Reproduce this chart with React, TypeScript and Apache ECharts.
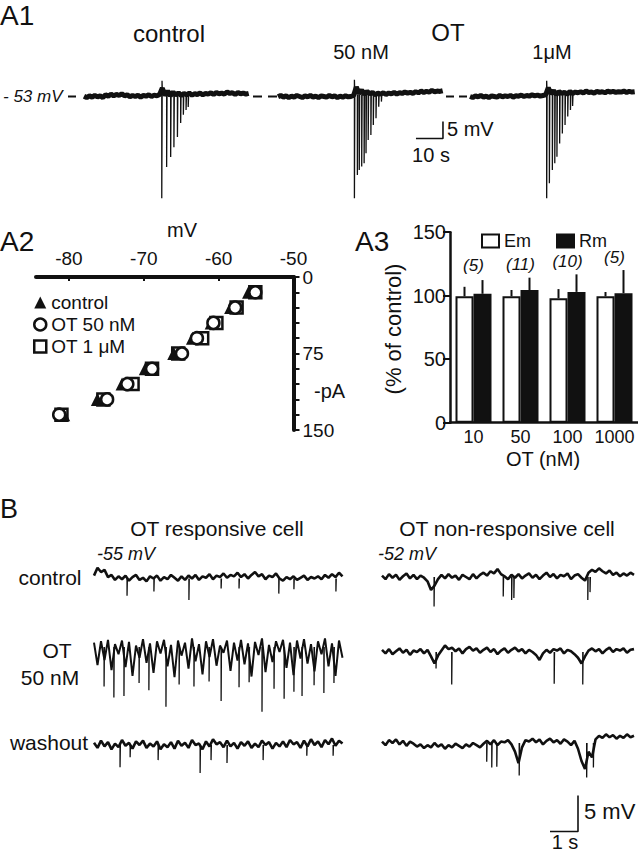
import React, { useEffect, useRef } from 'react';
import * as echarts from 'echarts';

const FONT = 'Liberation Sans, Arial, Helvetica, sans-serif';
const INK = '#111';

// ---------- A1: current-clamp traces (mV relative to -53 mV), 1 s per sample ----------
const a1Dt = 1;
const a1Control = [
  0.1, -0.3, 0.2, -0.2, 0.3, -0.1, 0.2, -0.3, 0.5, 0.1, 0.7, 0.2, 0.6, 0.3, 0.8, 0.2, 0.5, -0.1, 0.3, 0.0,
  0.4, -0.2, 0.3, 0.1, 0.5, 0.0, 0.4, 0.2, 0.6, 2.5, 0.3, 1.6, 0.2, 1.3, 0.4, 1.1, 0.3, 0.9, 0.5, 1.0,
  0.4, 0.8, 0.6, 1.0, 0.5, 0.9, 0.7, 1.1, 0.6, 1.2, 0.8, 1.0, 0.7, 1.3, 0.9, 1.1, 0.6, 1.2, 0.8, 1.0, 0.7, 0.9,
];
const a1Ot50 = [
  -0.1, 0.3, -0.2, 0.2, -0.3, 0.1, -0.2, 0.3, 0.0, -0.3, 0.2, -0.1, 0.3, -0.2, 0.1, -0.3, 0.2, 0.0, -0.2, 0.3,
  -0.1, 0.2, -0.3, 0.1, -0.2, 0.2, -0.1, 0.0, 0.3, 2.8, 0.9, 1.9, 0.6, 1.5, 0.8, 1.2, 0.5, 1.0, 0.7, 1.1,
  0.6, 1.0, 0.8, 1.2, 0.7, 1.1, 0.9, 1.3, 1.0, 1.2, 0.9, 1.4, 1.1, 1.6, 1.2, 1.5, 1.3, 1.8, 1.4, 1.6, 1.5, 1.7,
];
const a1Ot1000 = [
  0.0, -0.3, 0.2, -0.1, 0.3, -0.2, 0.1, -0.3, 0.2, 0.0, -0.2, 0.3, -0.1, 0.2, 0.0, 0.3, -0.2, 0.2, 0.1, 0.4,
  0.0, 0.3, 0.1, 0.5, 0.2, 0.4, 0.1, 0.3, 0.5, 2.6, 0.8, 1.7, 0.6, 1.4, 0.9, 1.2, 0.7, 1.5, 0.9, 1.3,
  1.1, 1.4, 1.0, 1.6, 1.2, 1.3, 1.0, 1.5, 1.2, 1.4, 1.1, 1.6, 1.3, 1.5, 1.2, 1.4, 1.3, 1.6, 1.2, 1.5, 1.3, 1.4,
];
// [time s, peak mV]
const a1ControlSpikes = [[28.9, 4.6], [28.8, -29.9], [30.6, -20.7], [32.1, -17.8], [33.3, -14.9], [34.6, -11.9], [35.8, -7.8], [36.8, -5.4], [37.8, -4.0], [38.6, -3.1]];
const a1Ot50Spikes = [[28.3, 4.9], [28.3, -29.9], [29.4, -23.1], [30.1, -21.6], [31.0, -20.6], [31.9, -19.6], [32.6, -16.7], [33.4, -12.8], [34.4, -11.3], [35.3, -8.4], [36.3, -6.4], [37.3, -3.0], [38.3, -1.5]];
const a1Ot1000Spikes = [[28.4, 4.6], [28.4, -29.9], [29.4, -25.5], [30.5, -21.6], [31.4, -19.6], [32.2, -17.7], [33.2, -13.8], [34.2, -10.9], [35.2, -8.4], [36.2, -5.9], [37.2, -4.0], [38.0, -2.8]];
const a1ScaleBar = [[51.1, -12.35], [61.1, -12.35], [61.1, -7.35]]; // 10 s, 5 mV

// ---------- A2: I–V relation ----------
const ivCurrents = [15, 30, 45, 60, 75, 90, 105, 120, 135]; // -pA
const ivControl = [-56.0, -58.4, -61.0, -63.5, -66.0, -69.8, -72.9, -76.2, -80.7];
const ivOt50 = [-55.1, -57.8, -60.7, -62.9, -64.9, -68.9, -72.2, -74.9, -81.3];
const ivOt1000 = [-55.1, -57.6, -60.3, -62.2, -65.4, -68.9, -71.5, -75.4, -81.0];
const ivXTicks = [-80, -70, -60, -50];
const ivYTicks = [0, 15, 30, 45, 60, 75, 90, 105, 120, 135, 150];
const ivYLabels = [0, 75, 150];

// ---------- A3: Em / Rm ----------
const otConc = ['10', '50', '100', '1000'];
const emMean = [99.5, 99.5, 98, 99.5];
const emSem = [7.5, 5.0, 7.2, 3.4];
const rmMean = [101.5, 104.5, 103, 102];
const rmSem = [10.8, 9.7, 13.8, 18.2];
const nCells = ['(5)', '(11)', '(10)', '(5)'];

// ---------- B: spontaneous activity (mV relative to resting), 0.125 s per sample ----------
const bDt = 0.125;
const bCtrlL = [
  0.4, 1.5, 0.9, 1.2, 0.2, 0.5, -0.2, 0.3, -0.1, 0.4,
  -0.3, 0.2, 0.5, -0.2, 0.1, -0.4, 0.3, 0.0, 0.4, -0.3,
  0.2, -0.1, 0.5, 0.1, -0.3, 0.3, -0.2, 0.4, 0.0, 0.5,
  -0.2, 0.3, 0.1, 0.6, -0.1, 0.4, 0.2, 0.7, 0.1, 0.5,
  0.3, 0.8, 0.2, 0.6, 0.0, 0.5, 0.9, 0.3, 0.6, -0.1,
  0.4, 0.2, 0.7, 0.0, -0.3, 0.2, -0.1, 0.3, -0.2, 0.1,
  0.4, -0.2, 0.2, 0.0, 0.3, -0.1, 0.5, 0.1, 0.6, 0.2,
  0.8, 0.3,
];
const bOtL = [
  0.6, -2.5, 0.8, -1.8, 1.0, -3.2, 0.4, -1.0, 0.9, -2.8,
  0.7, -4.0, 0.2, -1.5, 1.1, -2.2, 0.5, -3.6, 0.8, -0.9,
  1.0, -2.7, 0.3, -4.2, 0.9, -1.2, 0.6, -3.0, 1.2, -2.0,
  0.4, -3.8, 0.8, -1.4, 1.1, -2.6, 0.2, -0.8, 0.9, -3.3,
  0.6, -1.9, 1.0, -2.4, 0.5, -4.1, 0.7, -1.1, 1.2, -3.5,
  0.3, -2.1, 0.8, -0.7, 1.0, -2.9, 0.6, -3.9, 0.9, -1.6,
  1.1, -2.3, 0.4, -3.4, 0.8, -1.0, 1.2, -2.7, 0.5, -4.0,
  0.9, -1.5,
];
const bWashL = [
  0.3, -0.4, 0.6, -0.2, 0.4, -0.6, 0.2, -0.3, 0.7, -0.1,
  0.3, -0.5, 0.5, 0.0, 0.6, -0.4, 0.2, -0.2, 0.5, -0.6,
  0.1, -0.3, 0.4, -0.5, 0.6, -0.1, 0.3, -0.4, 0.7, 0.0,
  0.2, -0.6, 0.5, -0.2, 0.8, 0.1, 0.4, -0.3, 0.6, -0.2,
  0.3, -0.5, 0.4, -0.1, 0.5, -0.4, 0.2, -0.3, 0.6, 0.0,
  0.4, -0.5, 0.3, -0.2, 0.5, -0.3, 0.7, 0.1, 0.4, -0.4,
  0.6, -0.2, 0.8, 0.0, 0.5, -0.3, 0.7, 0.1, 0.9, -0.1,
  0.6, 0.2,
];
const bCtrlR = [
  0.2, -0.3, 0.4, -0.1, 0.3, -0.4, 0.1, 0.5, -0.2, 0.3,
  -0.3, 0.2, -0.1, -0.6, -1.8, -1.2, -0.3, 0.3, -0.2, 0.4,
  -0.1, 0.2, -0.4, 0.3, 0.0, -0.3, 0.4, -0.2, 0.3, 0.6,
  0.2, 0.8, 0.5, 1.1, 0.4, 0.1, -0.3, 0.3, -0.1, 0.4,
  -0.2, 0.2, 0.5, -0.1, 0.3, -0.3, 0.2, 0.6, 0.0, 0.4,
  -0.2, 0.3, 0.1, 0.5, -0.3, 0.2, 0.4, -0.1, -0.5, 0.6,
  1.0, 0.7, 1.2, 0.8, 0.5, 0.9, 0.3, 0.6, 0.1, 0.5,
  0.2, 0.6, 0.3,
];
const bOtR = [
  0.3, -0.2, 0.4, -0.3, 0.1, 0.5, -0.1, 0.3, -0.4, 0.2,
  0.0, 0.4, -0.2, 0.3, -0.6, -1.6, -0.5, 0.2, 0.9, 0.4,
  0.6, 0.1, 0.5, -0.2, 0.4, 0.7, 0.2, 0.5, -0.1, 0.3,
  0.6, 0.0, 0.4, -0.3, 0.2, 0.5, -0.1, 0.3, 0.6, 0.1,
  0.4, -0.2, 0.3, 0.0, -0.4, -1.1, -0.2, 0.3, -0.1, 0.4,
  0.2, 0.5, -0.2, 0.3, 0.1, -0.3, -0.8, -1.6, -0.6, 0.2,
  0.5, 0.1, 0.4, -0.2, 0.3, 0.6, 0.0, 0.4, 0.2, 0.5,
  -0.1, 0.3, 0.4,
];
const bWashR = [
  0.2, -0.3, 0.4, 0.0, 0.5, -0.2, 0.3, -0.4, 0.2, -0.1,
  -0.5, -0.2, -0.7, -0.3, -0.6, 0.0, -0.5, -0.2, -0.8, -0.3,
  -0.6, -0.1, -0.4, -0.7, -0.2, -0.5, 0.0, -0.3, -0.6, -0.1,
  0.3, -0.2, 0.4, -0.3, 0.2, 0.1, 0.4, -0.2, -1.2, -2.8,
  -0.6, 0.4, 0.2, 0.6, 0.1, 0.5, -0.2, 0.3, 0.6, 0.1,
  0.4, -0.1, 0.5, 0.2, -0.3, 0.3, -0.8, -2.5, -3.6, -1.2,
  -2.0, 0.5, 1.0, 0.7, 1.2, 0.8, 1.1, 0.6, 1.0, 0.7,
  1.2, 0.8, 1.0,
];
const bCtrlLSpikes = [[1.18, -2.4], [2.14, -1.8], [3.39, -3.0], [4.54, -1.4], [5.18, -1.4], [6.6, -2.1], [7.14, -1.5], [8.64, -1.8]];
const bOtLSpikes = [[0.36, -5.5], [0.71, -7.0], [1.07, -6.8], [1.61, -5.0], [1.96, -6.0], [2.57, -8.3], [3.04, -5.2], [3.57, -5.5], [4.11, -4.8], [4.54, -7.5], [5.18, -5.6], [5.54, -4.9], [6.0, -9.0], [6.43, -5.8], [6.79, -7.2], [7.14, -6.2], [7.43, -6.8], [7.86, -5.3], [8.21, -6.4], [8.57, -5.0]];
const bWashLSpikes = [[0.93, -3.1], [1.29, -1.7], [2.29, -2.1], [3.79, -3.9], [4.18, -2.1], [4.75, -2.5], [6.04, -2.1], [7.6, -1.5], [8.54, -1.5]];
const bCtrlRSpikes = [[1.86, -4.1], [4.33, -2.7], [4.63, -3.2], [4.71, -2.9], [7.35, -3.2], [7.43, -2.1]];
const bOtRSpikes = [[1.93, -2.3], [2.49, -4.5], [6.15, -4.4], [7.17, -4.5]];
const bWashRSpikes = [[3.74, -2.6], [3.92, -3.4], [4.10, -3.3], [4.90, -4.5], [7.31, -4.8], [7.55, -3.4]];
const bScaleBar = [[6.0, -12.3], [7.0, -12.3], [7.0, -7.3]]; // 1 s, 5 mV

// ---------- helpers ----------
const toXY = (vals: number[], dt: number) => vals.map((v, i) => [i * dt, v]);
const spikeXY = (list: number[][], base: number, eps: number) => {
  const out: any[] = [];
  list.forEach(([t, d]) => { out.push([t, base], [t, d], [t + eps, base], [t + eps, '-']); });
  return out;
};

type TG = { left: number; base: number; xMax: number; yMin: number; yMax: number; pxS: number; pxMv: number; w: number };
const traceGrids: TG[] = [
  { left: 84, base: 96.5, xMax: 62, yMin: -32, yMax: 6, pxS: 2.7, pxMv: 3.4, w: 5 },
  { left: 278, base: 96.5, xMax: 62, yMin: -32, yMax: 6, pxS: 2.7, pxMv: 3.4, w: 5 },
  { left: 470, base: 96.5, xMax: 62, yMin: -32, yMax: 6, pxS: 2.7, pxMv: 3.4, w: 5 },
  { left: 94, base: 578.5, xMax: 9.1, yMin: -10, yMax: 3, pxS: 28, pxMv: 7.2, w: 2.6 },
  { left: 94, base: 647, xMax: 9.1, yMin: -10, yMax: 3, pxS: 28, pxMv: 7.2, w: 2.0 },
  { left: 94, base: 745, xMax: 9.1, yMin: -10, yMax: 3, pxS: 28, pxMv: 7.2, w: 2.6 },
  { left: 382, base: 577, xMax: 9.1, yMin: -10, yMax: 3, pxS: 28, pxMv: 7.2, w: 2.6 },
  { left: 382, base: 652, xMax: 9.1, yMin: -10, yMax: 3, pxS: 28, pxMv: 7.2, w: 2.6 },
  { left: 382, base: 743, xMax: 9.1, yMin: -13, yMax: 3, pxS: 28, pxMv: 7.2, w: 2.6 },
];

function txt(text: string, x: number, y: number, size: number, align = 'left', extra: any = {}) {
  return {
    type: 'text', x, y, silent: true, rotation: extra.rotation || 0,
    style: {
      text, fontSize: size, fontFamily: FONT, fill: INK,
      textAlign: align, align, textVerticalAlign: 'middle', verticalAlign: 'middle',
      fontStyle: extra.italic ? 'italic' : 'normal',
    },
  };
}
function dash(x1: number, x2: number, y: number) {
  return { type: 'line', silent: true, shape: { x1, y1: y, x2, y2: y }, style: { stroke: INK, lineWidth: 2 } };
}

export default function App() {
  const ref = useRef<HTMLDivElement>(null);
  useEffect(() => {
    if (!ref.current) return;
    const chart = echarts.init(ref.current, undefined, { renderer: 'svg' });

    const grids: any[] = [];
    const xAxes: any[] = [];
    const yAxes: any[] = [];
    traceGrids.forEach((g, i) => {
      grids.push({ left: g.left, top: g.base - g.yMax * g.pxMv, width: g.xMax * g.pxS, height: (g.yMax - g.yMin) * g.pxMv });
      xAxes.push({ gridIndex: i, type: 'value', min: 0, max: g.xMax, show: false });
      yAxes.push({ gridIndex: i, type: 'value', min: g.yMin, max: g.yMax, show: false });
    });
    // A2 grid: index 9
    grids.push({ left: 36, top: 277, width: 257.5, height: 153 });
    xAxes.push({
      gridIndex: 9, type: 'value', position: 'top', min: -84.4, max: -50,
      axisLine: { show: true, onZero: false, lineStyle: { color: INK, width: 4 } },
      axisTick: { show: true, inside: true, length: 4, customValues: ivXTicks, lineStyle: { color: INK, width: 2 } },
      axisLabel: { customValues: ivXTicks, fontSize: 19, color: INK, fontFamily: FONT, margin: 9 },
      splitLine: { show: false },
    });
    yAxes.push({
      gridIndex: 9, type: 'value', position: 'right', inverse: true, min: 0, max: 150,
      axisLine: { show: true, onZero: false, lineStyle: { color: INK, width: 4 } },
      axisTick: { show: true, length: 6, customValues: ivYTicks, lineStyle: { color: INK, width: 2 } },
      axisLabel: { customValues: ivYLabels, fontSize: 19, color: INK, fontFamily: FONT, margin: 9 },
      splitLine: { show: false },
    });
    // A3 grid: index 10
    grids.push({ left: 450, top: 232.2, width: 189, height: 190.5 });
    xAxes.push({
      gridIndex: 10, type: 'category', data: otConc,
      axisLine: { show: true, lineStyle: { color: INK, width: 2.5 } },
      axisTick: { show: false },
      axisLabel: { interval: 0, hideOverlap: false, fontSize: 18, color: INK, fontFamily: FONT, margin: 5 },
    });
    yAxes.push({
      gridIndex: 10, type: 'value', min: 0, max: 150, interval: 50,
      axisLine: { show: true, lineStyle: { color: INK, width: 2.5 } },
      axisTick: { show: true, length: 7, lineStyle: { color: INK, width: 2 } },
      axisLabel: { fontSize: 20, color: INK, fontFamily: FONT, margin: 4 },
      splitLine: { show: false },
    });

    const traceLine = (idx: number, data: any[], width: number) => ({
      type: 'line', xAxisIndex: idx, yAxisIndex: idx, data, symbol: 'none', silent: true, connectNulls: false,
      lineStyle: { color: INK, width }, z: 3,
    });

    const traces: [number[], number[][], number, number][] = [
      [a1Control, a1ControlSpikes, a1Dt, 0.6],
      [a1Ot50, a1Ot50Spikes, a1Dt, 0.6],
      [a1Ot1000, a1Ot1000Spikes, a1Dt, 0.6],
      [bCtrlL, bCtrlLSpikes, bDt, 0],
      [bOtL, bOtLSpikes, bDt, 0],
      [bWashL, bWashLSpikes, bDt, 0],
      [bCtrlR, bCtrlRSpikes, bDt, 0],
      [bOtR, bOtRSpikes, bDt, 0],
      [bWashR, bWashRSpikes, bDt, 0],
    ];
    const series: any[] = [];
    traces.forEach(([vals, sp, dt, base], i) => {
      const isA1 = i < 3;
      series.push(traceLine(i, toXY(vals, dt), traceGrids[i].w));
      series.push(traceLine(i, spikeXY(sp, base, isA1 ? 0.15 : 0.012), 1.3));
    });
    series.push(traceLine(1, a1ScaleBar, 1.6));
    series.push(traceLine(8, bScaleBar, 1.6));

    // A2 scatter
    series.push({
      type: 'scatter', name: 'OT 1 μM', xAxisIndex: 9, yAxisIndex: 9, symbol: 'rect', symbolSize: 12,
      data: ivOt1000.map((v, i) => [v, ivCurrents[i]]),
      itemStyle: { color: '#fff', borderColor: INK, borderWidth: 2.5, opacity: 1 }, z: 4,
    });
    series.push({
      type: 'scatter', name: 'control', xAxisIndex: 9, yAxisIndex: 9, symbol: 'triangle', symbolSize: 13,
      data: ivControl.map((v, i) => [v, ivCurrents[i]]),
      itemStyle: { color: INK, opacity: 1 }, z: 5,
    });
    series.push({
      type: 'scatter', name: 'OT 50 nM', xAxisIndex: 9, yAxisIndex: 9, symbol: 'circle', symbolSize: 12,
      data: ivOt50.map((v, i) => [v, ivCurrents[i]]),
      itemStyle: { color: '#fff', borderColor: INK, borderWidth: 2.5, opacity: 1 }, z: 6,
    });

    // A3 bars
    series.push({
      type: 'bar', name: 'Em', xAxisIndex: 10, yAxisIndex: 10, data: emMean, barWidth: 18, barGap: '0%',
      itemStyle: { color: '#fff', borderColor: INK, borderWidth: 2 },
    });
    series.push({
      type: 'bar', name: 'Rm', xAxisIndex: 10, yAxisIndex: 10, data: rmMean, barWidth: 18, barGap: '0%',
      itemStyle: { color: INK, borderColor: INK, borderWidth: 2 },
    });
    const errSeries = (means: number[], sems: number[], off: number) => ({
      type: 'custom', xAxisIndex: 10, yAxisIndex: 10, silent: true, z: 5,
      data: means.map((m, i) => [i, m, m + sems[i]]),
      renderItem: (_p: any, api: any) => {
        const a = api.coord([api.value(0), api.value(1)]);
        const b = api.coord([api.value(0), api.value(2)]);
        return { type: 'line', shape: { x1: a[0] + off, y1: a[1], x2: a[0] + off, y2: b[1] }, style: { stroke: INK, lineWidth: 2 } };
      },
    });
    series.push(errSeries(emMean, emSem, -9));
    series.push(errSeries(rmMean, rmSem, 9));
    series.push({
      type: 'scatter', xAxisIndex: 10, yAxisIndex: 10, symbolSize: 1, silent: true,
      itemStyle: { opacity: 0 },
      data: nCells.map((_, i) => [i, Math.max(124, rmMean[i] + rmSem[i] + 10)]),
      label: {
        show: true, position: 'inside', formatter: (p: any) => nCells[p.dataIndex],
        fontSize: 17, fontStyle: 'italic', color: INK, fontFamily: FONT, opacity: 1,
      },
    });

    const graphic: any[] = [
      txt('A1', 0, 15, 28),
      txt('control', 169, 33, 24, 'center'),
      txt('OT', 448, 32, 24, 'center'),
      txt('50 nM', 361, 52, 20, 'center'),
      txt('1μM', 552, 52, 20, 'center'),
      txt('- 53 mV', 3, 96, 17, 'left', { italic: true }),
      dash(68, 76, 96.5), dash(253, 262, 96.5), dash(268, 277, 96.5), dash(446, 454, 96.5), dash(459, 467, 96.5),
      txt('5 mV', 447, 129, 20),
      txt('10 s', 431, 155, 20, 'center'),
      txt('A2', 0, 241, 28),
      txt('mV', 182, 230, 20, 'center'),
      txt('-pA', 314, 391, 20),
      txt('A3', 355, 241, 28),
      txt('(% of control)', 393, 329, 22, 'center', { rotation: Math.PI / 2 }),
      txt('OT (nM)', 543, 459, 20, 'center'),
      txt('B', 0, 509, 27),
      txt('OT responsive cell', 217, 528, 21, 'center'),
      txt('OT non-responsive cell', 507, 528, 21, 'center'),
      txt('-55 mV', 97, 554, 18, 'left', { italic: true }),
      txt('-52 mV', 378, 554, 18, 'left', { italic: true }),
      txt('control', 50, 577, 21, 'center'),
      txt('OT', 57, 650, 21, 'center'),
      txt('50 nM', 50, 677, 21, 'center'),
      txt('washout', 49, 742, 21, 'center'),
      txt('5 mV', 584, 811, 22),
      txt('1 s', 565, 842, 20, 'center'),
    ];

    chart.setOption({
      animation: false,
      backgroundColor: '#fff',
      textStyle: { fontFamily: FONT },
      grid: grids,
      xAxis: xAxes,
      yAxis: yAxes,
      legend: [
        {
          orient: 'vertical', left: 28, top: 288, itemGap: 3, itemWidth: 12, itemHeight: 12,
          selectedMode: false,
          textStyle: { fontSize: 19, color: INK, fontFamily: FONT },
          data: [
            { name: 'control', icon: 'triangle', itemStyle: { color: INK } },
            { name: 'OT 50 nM', icon: 'circle', itemStyle: { color: '#fff', borderColor: INK, borderWidth: 2.5 } },
            { name: 'OT 1 μM', icon: 'rect', itemStyle: { color: '#fff', borderColor: INK, borderWidth: 2.5 } },
          ],
        },
        {
          orient: 'horizontal', left: 476, top: 227, itemGap: 25, itemWidth: 17, itemHeight: 13,
          selectedMode: false,
          textStyle: { fontSize: 18, color: INK, fontFamily: FONT },
          data: [
            { name: 'Em', icon: 'rect', itemStyle: { color: '#fff', borderColor: INK, borderWidth: 2 } },
            { name: 'Rm', icon: 'rect', itemStyle: { color: INK, borderColor: INK, borderWidth: 2 } },
          ],
        },
      ],
      graphic,
      series,
    });
    return () => chart.dispose();
  }, []);
  return <div ref={ref} style={{ position: 'absolute', left: 0, top: 0, width: 638, height: 853 }} />;
}
